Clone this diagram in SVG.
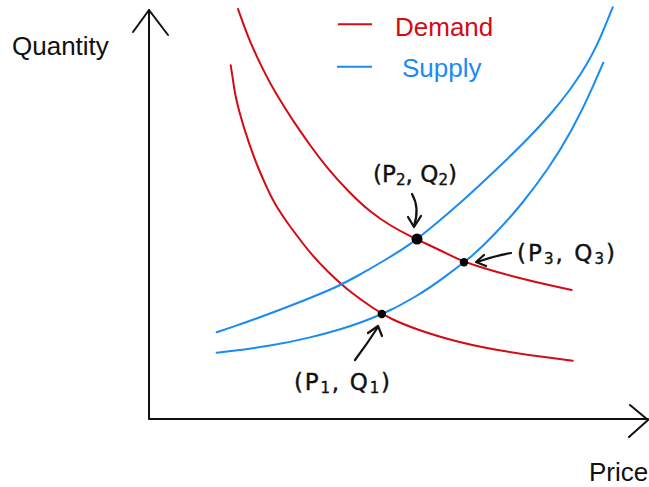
<svg xmlns="http://www.w3.org/2000/svg" width="649" height="487" viewBox="0 0 649 487">
<style>
.axis{fill:none;stroke:#111;stroke-width:2;stroke-linecap:round;stroke-linejoin:round}
.dem{fill:none;stroke:#d40a14;stroke-width:2;stroke-linejoin:round;stroke-linecap:round}
.sup{fill:none;stroke:#1a8af5;stroke-width:2;stroke-linejoin:round;stroke-linecap:round}
.hand{fill:none;stroke:#111;stroke-width:2.2;stroke-linecap:round;stroke-linejoin:round}
.lbl{font-family:"Liberation Sans",Arial,sans-serif;font-size:26px;fill:#111}
.hl{font-family:"DejaVu Sans","Liberation Sans",sans-serif;font-size:23px;fill:#111;stroke:#111;stroke-width:0.4}
.dot{fill:#000}
</style>
<rect width="649" height="487" fill="#fff"/>
<g id="axes">
  <path class="axis" d="M149 10 L149 419 L648 419"/>
  <path class="axis" d="M133 32 L149 10 L168 35"/>
  <path class="axis" d="M630 405 L648 420 L629 437"/>
  <text class="lbl" x="12" y="55">Quantity</text>
  <text class="lbl" x="589" y="481">Price</text>
</g>
<g id="legend">
  <line x1="338" y1="24.3" x2="372" y2="24.3" stroke="#d40a14" stroke-width="2"/>
  <text class="lbl" x="395" y="36" style="fill:#d40a14">Demand</text>
  <line x1="337" y1="66.7" x2="372" y2="66.7" stroke="#1a8af5" stroke-width="2"/>
  <text class="lbl" x="402" y="77" style="fill:#1a8af5">Supply</text>
</g>
<g id="connectors">
  <path id="demand1" class="dem" d="M238 9 L242.35 21.15 Q246.7 33.3 250.35 41.9 Q254 50.5 257.85 58.6 Q261.7 66.7 265.85 74.85 Q270 83 275 91.5 Q280 100 285 108 Q290 116 295.85 124.65 Q301.7 133.3 310 145 Q318.3 156.7 327.5 167.85 Q336.7 179 348.35 191 Q360 203 370 211 Q380 219 390 225 Q400 231 408.35 235.15 Q416.7 239.3 428.35 244.75 Q440 250.2 452 256.1 Q464 262 482 267.5 Q500 273 517.5 277.5 Q535 282 553.35 286 L571.7 290"/>
  <path id="demand2" class="dem" d="M230.7 65.3 L231.85 72.65 Q233 80 234.25 88.5 Q235.5 97 239.4 111.85 Q243.3 126.7 249.15 143.35 Q255 160 258.65 168.75 Q262.3 177.5 267 187.9 Q271.7 198.3 276.85 206.65 Q282 215 287.65 223 Q293.3 231 304.15 245 Q315 259 328.35 272 Q341.7 285 351.85 292.75 Q362 300.5 372 307.25 Q382 314 391 318.5 Q400 323 415 328.5 Q430 334 450 339.5 Q470 345 495 349.5 Q520 354 546.35 357.35 L572.7 360.7"/>
  <path id="supply1" class="sup" d="M216.7 332.3 L233.35 326.65 Q250 321 270 313.5 Q290 306 305 300 Q320 294 330.85 289.25 Q341.7 284.5 355.85 276.75 Q370 269 385 260 Q400 251 408.35 245.15 Q416.7 239.3 433.35 225.65 Q450 212 465 198.5 Q480 185 498.35 167.5 Q516.7 150 528.35 138 Q540 126 550 114.5 Q560 103 570 89.5 Q580 76 588.5 61 Q597 46 604.85 26.65 L612.7 7.3"/>
  <path id="supply2" class="sup" d="M216.7 352.7 L233.35 350.75 Q250 348.8 270 345.55 Q290 342.3 310 337.4 Q330 332.5 345 327.75 Q360 323 371 318.5 Q382 314 391 309.75 Q400 305.5 415 296.75 Q430 288 447 275.15 Q464 262.3 472 255.65 Q480 249 495 233.5 Q510 218 522.5 202.5 Q535 187 547.5 169 Q560 151 571.5 130 Q583 109 593.15 85.85 L603.3 62.7"/>
  <path class="hand" d="M412 194 Q420 208 414 226"/>
  <path class="hand" d="M408 217 L414 227 L421 216"/>
  <path class="hand" d="M511 253 Q494 256 477 262"/>
  <path class="hand" d="M484 255 L476 262 L486 266"/>
  <path class="hand" d="M355 360 Q367 344 378 327"/>
  <path class="hand" d="M368 333 L378 326 L382 336"/>
</g>
<g id="p2">
  <circle class="dot" cx="417" cy="239" r="5.5"/>
  <text class="hl" x="373" y="182" textLength="84" lengthAdjust="spacing">(P<tspan font-size="15" dy="3">2</tspan><tspan dy="-3">, Q</tspan><tspan font-size="15" dy="3">2</tspan><tspan dy="-3">)</tspan></text>
</g>
<g id="p3">
  <circle class="dot" cx="464" cy="262.3" r="4.2"/>
  <text class="hl" x="517" y="261" textLength="98" lengthAdjust="spacing">(P<tspan font-size="15" dy="3">3</tspan><tspan dy="-3">, Q</tspan><tspan font-size="15" dy="3">3</tspan><tspan dy="-3">)</tspan></text>
</g>
<g id="p1">
  <circle class="dot" cx="381.8" cy="314" r="4.2"/>
  <text class="hl" x="294" y="390" textLength="96" lengthAdjust="spacing">(P<tspan font-size="15" dy="3">1</tspan><tspan dy="-3">, Q</tspan><tspan font-size="15" dy="3">1</tspan><tspan dy="-3">)</tspan></text>
</g>
</svg>
